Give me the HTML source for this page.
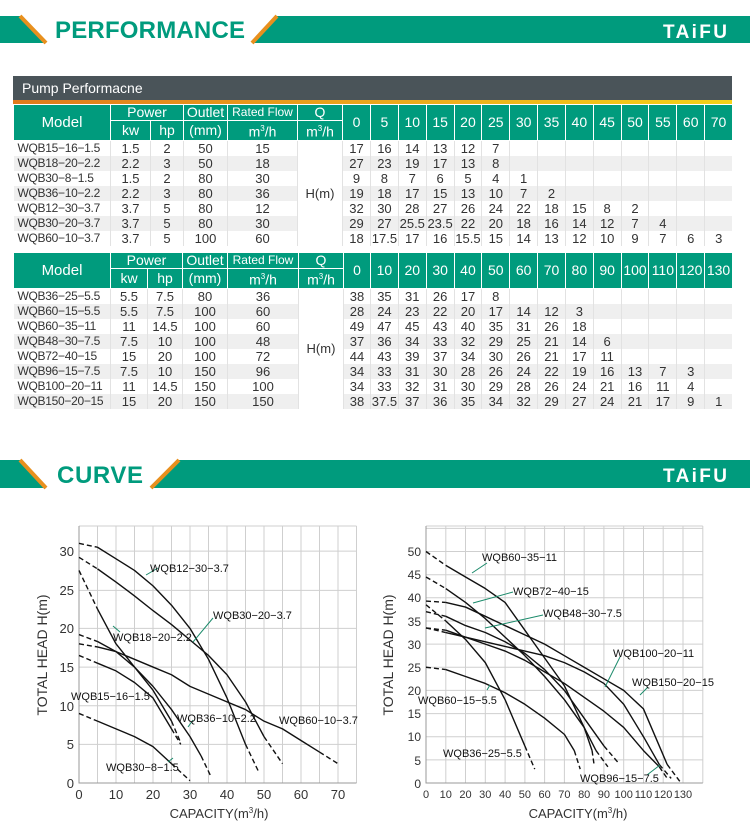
<!DOCTYPE html>
<html><head><meta charset="utf-8"><style>
*{margin:0;padding:0;box-sizing:border-box}
body{width:750px;height:840px;background:#fff;position:relative;overflow:hidden;font-family:"Liberation Sans",Arial,sans-serif}
.abs{position:absolute}
table{position:absolute;left:13px;width:719px;border-collapse:collapse;table-layout:fixed;font-size:13px;color:#333}
th{background:#009b7d;color:#fff;font-weight:normal;border:1px solid #fff;height:16px;line-height:15px;font-size:14px;padding:0;overflow:hidden;white-space:nowrap}
td{height:15px;line-height:15px;text-align:center;padding:0;border-left:1px solid #e2e2e2;white-space:nowrap;overflow:hidden}
td.m{text-align:left;padding-left:4px;border-left:none;font-size:12px;letter-spacing:-0.3px}
tr.g td{background:#efefef}
td.q{background:#fff!important}
</style></head><body>
<svg class="abs" style="left:0;top:0" width="750" height="840">
 <rect x="0" y="16" width="750" height="27" fill="#009b7d"/>
 <polygon points="20,16 277,16 252,43 46,43" fill="#fff"/>
 <line x1="20" y1="16" x2="46" y2="43" stroke="#e8901e" stroke-width="4"/>
 <line x1="277" y1="16" x2="252" y2="43" stroke="#e8901e" stroke-width="4"/>
 <text x="55" y="38" font-family="Liberation Sans" font-weight="bold" font-size="24" fill="#009b7d" textLength="190">PERFORMANCE</text>
 <text x="663" y="38" font-family="Liberation Sans" font-weight="bold" font-size="19" fill="#fff" textLength="64">TAiFU</text>
 <rect x="0" y="460" width="750" height="28" fill="#009b7d"/>
 <polygon points="20,460 179,460 151,488 46,488" fill="#fff"/>
 <line x1="20" y1="460" x2="46" y2="488" stroke="#e8901e" stroke-width="4"/>
 <line x1="179" y1="460" x2="151" y2="488" stroke="#e8901e" stroke-width="4"/>
 <text x="57" y="483" font-family="Liberation Sans" font-weight="bold" font-size="24" fill="#009b7d" textLength="86">CURVE</text>
 <text x="663" y="482" font-family="Liberation Sans" font-weight="bold" font-size="19" fill="#fff" textLength="64">TAiFU</text>
 <rect x="13" y="76" width="719" height="24" fill="#4a5459"/>
 <defs><linearGradient id="og" x1="0" x2="1"><stop offset="0" stop-color="#e07a1c"/><stop offset="1" stop-color="#f5d21a"/></linearGradient></defs>
 <rect x="13" y="100" width="719" height="4" fill="url(#og)"/>
 <text x="22" y="93" font-family="Liberation Sans" font-size="14" fill="#fff">Pump Performacne</text>
</svg>

<table style="top:104px">
<colgroup><col style="width:97px"><col style="width:40px"><col style="width:33px"><col style="width:44px"><col style="width:70px"><col style="width:45px"><col style="width:28px"><col span="13" style="width:27.85px"></colgroup>
<tr><th rowspan="2" style="font-size:15px">Model</th><th colspan="2">Power</th><th>Outlet</th><th style="font-size:12px">Rated Flow</th><th>Q</th><th rowspan="2">0</th><th rowspan="2">5</th><th rowspan="2">10</th><th rowspan="2">15</th><th rowspan="2">20</th><th rowspan="2">25</th><th rowspan="2">30</th><th rowspan="2">35</th><th rowspan="2">40</th><th rowspan="2">45</th><th rowspan="2">50</th><th rowspan="2">55</th><th rowspan="2">60</th><th rowspan="2">70</th></tr>
<tr><th>kw</th><th>hp</th><th>(mm)</th><th>m<sup style="font-size:8px">3</sup>/h</th><th>m<sup style="font-size:8px">3</sup>/h</th></tr>
<tr><td class="m">WQB15−16−1.5</td><td>1.5</td><td>2</td><td>50</td><td>15</td><td class="q" rowspan="7">H(m)</td><td>17</td><td>16</td><td>14</td><td>13</td><td>12</td><td>7</td><td></td><td></td><td></td><td></td><td></td><td></td><td></td><td></td></tr>
<tr class="g"><td class="m">WQB18−20−2.2</td><td>2.2</td><td>3</td><td>50</td><td>18</td><td>27</td><td>23</td><td>19</td><td>17</td><td>13</td><td>8</td><td></td><td></td><td></td><td></td><td></td><td></td><td></td><td></td></tr>
<tr><td class="m">WQB30−8−1.5</td><td>1.5</td><td>2</td><td>80</td><td>30</td><td>9</td><td>8</td><td>7</td><td>6</td><td>5</td><td>4</td><td>1</td><td></td><td></td><td></td><td></td><td></td><td></td><td></td></tr>
<tr class="g"><td class="m">WQB36−10−2.2</td><td>2.2</td><td>3</td><td>80</td><td>36</td><td>19</td><td>18</td><td>17</td><td>15</td><td>13</td><td>10</td><td>7</td><td>2</td><td></td><td></td><td></td><td></td><td></td><td></td></tr>
<tr><td class="m">WQB12−30−3.7</td><td>3.7</td><td>5</td><td>80</td><td>12</td><td>32</td><td>30</td><td>28</td><td>27</td><td>26</td><td>24</td><td>22</td><td>18</td><td>15</td><td>8</td><td>2</td><td></td><td></td><td></td></tr>
<tr class="g"><td class="m">WQB30−20−3.7</td><td>3.7</td><td>5</td><td>80</td><td>30</td><td>29</td><td>27</td><td>25.5</td><td>23.5</td><td>22</td><td>20</td><td>18</td><td>16</td><td>14</td><td>12</td><td>7</td><td>4</td><td></td><td></td></tr>
<tr><td class="m">WQB60−10−3.7</td><td>3.7</td><td>5</td><td>100</td><td>60</td><td>18</td><td>17.5</td><td>17</td><td>16</td><td>15.5</td><td>15</td><td>14</td><td>13</td><td>12</td><td>10</td><td>9</td><td>7</td><td>6</td><td>3</td></tr>
</table>

<table style="top:252px">
<colgroup><col style="width:97px"><col style="width:37px"><col style="width:35px"><col style="width:45px"><col style="width:71px"><col style="width:45px"><col style="width:27px"><col span="13" style="width:27.85px"></colgroup>
<tr><th rowspan="2" style="font-size:15px">Model</th><th colspan="2">Power</th><th>Outlet</th><th style="font-size:12px">Rated Flow</th><th>Q</th><th rowspan="2">0</th><th rowspan="2">10</th><th rowspan="2">20</th><th rowspan="2">30</th><th rowspan="2">40</th><th rowspan="2">50</th><th rowspan="2">60</th><th rowspan="2">70</th><th rowspan="2">80</th><th rowspan="2">90</th><th rowspan="2">100</th><th rowspan="2">110</th><th rowspan="2">120</th><th rowspan="2">130</th></tr>
<tr><th>kw</th><th>hp</th><th>(mm)</th><th>m<sup style="font-size:8px">3</sup>/h</th><th>m<sup style="font-size:8px">3</sup>/h</th></tr>
<tr><td class="m">WQB36−25−5.5</td><td>5.5</td><td>7.5</td><td>80</td><td>36</td><td class="q" rowspan="8">H(m)</td><td>38</td><td>35</td><td>31</td><td>26</td><td>17</td><td>8</td><td></td><td></td><td></td><td></td><td></td><td></td><td></td><td></td></tr>
<tr class="g"><td class="m">WQB60−15−5.5</td><td>5.5</td><td>7.5</td><td>100</td><td>60</td><td>28</td><td>24</td><td>23</td><td>22</td><td>20</td><td>17</td><td>14</td><td>12</td><td>3</td><td></td><td></td><td></td><td></td><td></td></tr>
<tr><td class="m">WQB60−35−11</td><td>11</td><td>14.5</td><td>100</td><td>60</td><td>49</td><td>47</td><td>45</td><td>43</td><td>40</td><td>35</td><td>31</td><td>26</td><td>18</td><td></td><td></td><td></td><td></td><td></td></tr>
<tr class="g"><td class="m">WQB48−30−7.5</td><td>7.5</td><td>10</td><td>100</td><td>48</td><td>37</td><td>36</td><td>34</td><td>33</td><td>32</td><td>29</td><td>25</td><td>21</td><td>14</td><td>6</td><td></td><td></td><td></td><td></td></tr>
<tr><td class="m">WQB72−40−15</td><td>15</td><td>20</td><td>100</td><td>72</td><td>44</td><td>43</td><td>39</td><td>37</td><td>34</td><td>30</td><td>26</td><td>21</td><td>17</td><td>11</td><td></td><td></td><td></td><td></td></tr>
<tr class="g"><td class="m">WQB96−15−7.5</td><td>7.5</td><td>10</td><td>150</td><td>96</td><td>34</td><td>33</td><td>31</td><td>30</td><td>28</td><td>26</td><td>24</td><td>22</td><td>19</td><td>16</td><td>13</td><td>7</td><td>3</td><td></td></tr>
<tr><td class="m">WQB100−20−11</td><td>11</td><td>14.5</td><td>150</td><td>100</td><td>34</td><td>33</td><td>32</td><td>31</td><td>30</td><td>29</td><td>28</td><td>26</td><td>24</td><td>21</td><td>16</td><td>11</td><td>4</td><td></td></tr>
<tr class="g"><td class="m">WQB150−20−15</td><td>15</td><td>20</td><td>150</td><td>150</td><td>38</td><td>37.5</td><td>37</td><td>36</td><td>35</td><td>34</td><td>32</td><td>29</td><td>27</td><td>24</td><td>21</td><td>17</td><td>9</td><td>1</td></tr>
</table>

<svg class="abs" style="left:0;top:0" width="750" height="840" font-family="Liberation Sans">
 <g stroke="#cfcfcf" stroke-width="1" fill="none">
  <path d="M97.5,526V783M116,526V783M134.5,526V783M153,526V783M171.5,526V783M190,526V783M208.5,526V783M227,526V783M245.5,526V783M264,526V783M282.5,526V783M301,526V783M319.5,526V783M338,526V783M356.5,526V783"/>
  <path d="M79,526H356.5M79,551.1H356.5M79,590.4H356.5M79,628.4H356.5M79,667.1H356.5M79,705.7H356.5M79,744.4H356.5"/>
 </g>
 <path d="M79,526V783H356.5" stroke="#999" fill="none"/>
 <g font-size="13" fill="#333" text-anchor="end">
  <text x="74" y="788">0</text><text x="74" y="749">5</text><text x="74" y="711">10</text><text x="74" y="672">15</text><text x="74" y="633">20</text><text x="74" y="595">25</text><text x="74" y="556">30</text>
 </g>
 <g font-size="13" fill="#333" text-anchor="middle">
  <text x="79" y="799">0</text><text x="116" y="799">10</text><text x="153" y="799">20</text><text x="190" y="799">30</text><text x="227" y="799">40</text><text x="264" y="799">50</text><text x="301" y="799">60</text><text x="338" y="799">70</text>
  <text x="219" y="818">CAPACITY(m<tspan font-size="8" dy="-5">3</tspan><tspan dy="5">/h)</tspan></text>
  <text transform="translate(47,655) rotate(-90)" font-size="14">TOTAL HEAD H(m)</text>
 </g>
 <g transform="translate(79,783) scale(3.7,-7.73)" fill="none" stroke="#111" stroke-width="1.4" stroke-linejoin="round">
  <polyline vector-effect="non-scaling-stroke" points="5,15.5 10,14.5 15,13 20,11 25,7"/>
  <polyline vector-effect="non-scaling-stroke" points="5,22.5 10,18 15,15 20,12 25,8"/>
  <polyline vector-effect="non-scaling-stroke" points="5,8 10,7 15,6 20,4.7 25,2.5"/>
  <polyline vector-effect="non-scaling-stroke" points="5,18.3 10,17 15,15 20,12.5 25,9.5 30,6 33,3.5"/>
  <polyline vector-effect="non-scaling-stroke" points="5,30.5 10,29 15,27.5 20,25.5 25,23 30,20 35,16 40,11 45,5"/>
  <polyline vector-effect="non-scaling-stroke" points="5,27.7 10,26 15,24.2 20,22.3 25,20.5 30,18.5 35,16.5 40,14 45,10.5 50,6"/>
  <polyline vector-effect="non-scaling-stroke" points="5,17.6 10,17 15,16 20,15 25,14 30,12.5 35,11.5 40,10.5 45,9.5 50,8 55,7 60,5.5 65,4"/>
  <g stroke-dasharray="5,3">
  <polyline vector-effect="non-scaling-stroke" points="0,16.5 5,15.5"/><polyline vector-effect="non-scaling-stroke" points="25,7 27.5,5"/>
  <polyline vector-effect="non-scaling-stroke" points="0,27.5 5,22.5"/><polyline vector-effect="non-scaling-stroke" points="25,8 27.5,5.2"/>
  <polyline vector-effect="non-scaling-stroke" points="0,9 5,8"/><polyline vector-effect="non-scaling-stroke" points="25,2.5 30,0.3"/>
  <polyline vector-effect="non-scaling-stroke" points="0,19.2 5,18.3"/><polyline vector-effect="non-scaling-stroke" points="33,3.5 35.5,1"/>
  <polyline vector-effect="non-scaling-stroke" points="0,31 5,30.5"/><polyline vector-effect="non-scaling-stroke" points="45,5 48.5,1.5"/>
  <polyline vector-effect="non-scaling-stroke" points="0,29.2 5,27.7"/><polyline vector-effect="non-scaling-stroke" points="50,6 55,2.5"/>
  <polyline vector-effect="non-scaling-stroke" points="0,18 5,17.6"/><polyline vector-effect="non-scaling-stroke" points="65,4 70,2.5"/>
  </g>
 </g>
 <g stroke="#1a8a6a" stroke-width="1"><line x1="146" y1="575" x2="158" y2="568"/><line x1="193" y1="642" x2="213" y2="618"/><line x1="113" y1="626" x2="120" y2="632"/><line x1="188" y1="727" x2="193" y2="720"/><line x1="168" y1="762" x2="173" y2="758"/></g>
 <g font-size="11" fill="#111">
  <text x="150" y="572">WQB12−30−3.7</text><text x="213" y="619">WQB30−20−3.7</text><text x="113" y="641">WQB18−20−2.2</text><text x="71" y="700">WQB15−16−1.5</text><text x="177" y="722">WQB36−10−2.2</text><text x="279" y="724">WQB60−10−3.7</text><text x="106" y="771">WQB30−8−1.5</text>
 </g>

 <g stroke="#cfcfcf" stroke-width="1" fill="none">
  <path d="M445.8,526V783M465.5,526V783M485.3,526V783M505.1,526V783M524.9,526V783M544.6,526V783M564.4,526V783M584.2,526V783M603.9,526V783M623.7,526V783M643.5,526V783M663.2,526V783M683,526V783M702.8,526V783"/>
  <path d="M426,526H702.8M426,528.4H702.8M426,551.5H702.8M426,574.7H702.8M426,597.8H702.8M426,621H702.8M426,644.1H702.8M426,667.3H702.8M426,690.4H702.8M426,713.6H702.8M426,736.7H702.8M426,759.9H702.8"/>
 </g>
 <path d="M426,526V783H702.8" stroke="#999" fill="none"/>
 <g font-size="12" fill="#333" text-anchor="end">
  <text x="421" y="788">0</text><text x="421" y="765">5</text><text x="421" y="741">10</text><text x="421" y="718">15</text><text x="421" y="695">20</text><text x="421" y="672">25</text><text x="421" y="649">30</text><text x="421" y="626">35</text><text x="421" y="602">40</text><text x="421" y="579">45</text><text x="421" y="556">50</text>
 </g>
 <g font-size="11" fill="#333" text-anchor="middle">
  <text x="426" y="798">0</text><text x="445.8" y="798">10</text><text x="465.5" y="798">20</text><text x="485.3" y="798">30</text><text x="505.1" y="798">40</text><text x="524.9" y="798">50</text><text x="544.6" y="798">60</text><text x="564.4" y="798">70</text><text x="584.2" y="798">80</text><text x="603.9" y="798">90</text><text x="623.7" y="798">100</text><text x="643.5" y="798">110</text><text x="663.2" y="798">120</text><text x="683" y="798">130</text>
  <text x="578" y="818" font-size="13">CAPACITY(m<tspan font-size="8" dy="-5">3</tspan><tspan dy="5">/h)</tspan></text>
  <text transform="translate(393,655) rotate(-90)" font-size="14">TOTAL HEAD H(m)</text>
 </g>
 <g transform="translate(426,783) scale(1.977,-4.63)" fill="none" stroke="#111" stroke-width="1.4" stroke-linejoin="round">
  <polyline vector-effect="non-scaling-stroke" points="10,47 20,44.5 30,42 40,39 50,33 60,27 70,21 80,12 84,7"/>
  <polyline vector-effect="non-scaling-stroke" points="10,42 20,39 30,35.5 40,31.5 50,27.5 60,23 70,18 80,12 86,7"/>
  <polyline vector-effect="non-scaling-stroke" points="10,36 20,34 30,32.5 40,30.5 50,28 60,24.5 70,20 80,14 90,8"/>
  <polyline vector-effect="non-scaling-stroke" points="10,35 20,31 30,26 40,18 50,8"/>
  <polyline vector-effect="non-scaling-stroke" points="10,24.5 20,23 30,21.5 40,19.5 50,17 60,14 70,10.5 75,7"/>
  <polyline vector-effect="non-scaling-stroke" points="10,33 20,31.5 30,30 40,28.5 50,26.5 60,24 70,21.5 80,18.5 90,15.5 100,12 110,7 118,3.5"/>
  <polyline vector-effect="non-scaling-stroke" points="10,32.5 20,31.5 30,30.5 40,29.5 50,28.5 60,27.5 70,26 80,24 90,21.5 100,17 110,10 118,4"/>
  <polyline vector-effect="non-scaling-stroke" points="10,39 20,38 30,36 40,34 50,32 60,30 70,27.5 80,25 90,22.5 100,20 110,16 118,8 122,4"/>
  <g stroke-dasharray="5,3">
  <polyline vector-effect="non-scaling-stroke" points="0,50 10,47"/><polyline vector-effect="non-scaling-stroke" points="84,7 85,4"/>
  <polyline vector-effect="non-scaling-stroke" points="0,44.5 10,42"/><polyline vector-effect="non-scaling-stroke" points="86,7 92,3.5"/>
  <polyline vector-effect="non-scaling-stroke" points="0,37 10,36"/><polyline vector-effect="non-scaling-stroke" points="90,8 97,4.5"/>
  <polyline vector-effect="non-scaling-stroke" points="0,38.5 10,35"/><polyline vector-effect="non-scaling-stroke" points="50,8 55,3"/>
  <polyline vector-effect="non-scaling-stroke" points="0,25 10,24.5"/><polyline vector-effect="non-scaling-stroke" points="75,7 78,3"/>
  <polyline vector-effect="non-scaling-stroke" points="0,33.5 10,33"/><polyline vector-effect="non-scaling-stroke" points="118,3.5 122,1"/>
  <polyline vector-effect="non-scaling-stroke" points="0,33.5 10,32.5"/><polyline vector-effect="non-scaling-stroke" points="118,4 124,1"/>
  <polyline vector-effect="non-scaling-stroke" points="0,39.3 10,39"/><polyline vector-effect="non-scaling-stroke" points="122,4 129,0"/>
  </g>
 </g>
 <g stroke="#1a8a6a" stroke-width="1"><line x1="472" y1="573" x2="487" y2="563"/><line x1="473" y1="603" x2="513" y2="592"/><line x1="485" y1="628" x2="543" y2="615"/><line x1="605" y1="687" x2="620" y2="657"/><line x1="640" y1="695" x2="648" y2="687"/><line x1="647" y1="775" x2="660" y2="765"/><line x1="490" y1="685" x2="487" y2="690"/></g>
 <g font-size="11" fill="#111">
  <text x="482" y="561">WQB60−35−11</text><text x="513" y="595">WQB72−40−15</text><text x="543" y="617">WQB48−30−7.5</text><text x="613" y="657">WQB100−20−11</text><text x="632" y="686">WQB150−20−15</text><text x="418" y="704">WQB60−15−5.5</text><text x="443" y="757">WQB36−25−5.5</text><text x="580" y="782">WQB96−15−7.5</text>
 </g>
</svg>
</body></html>
